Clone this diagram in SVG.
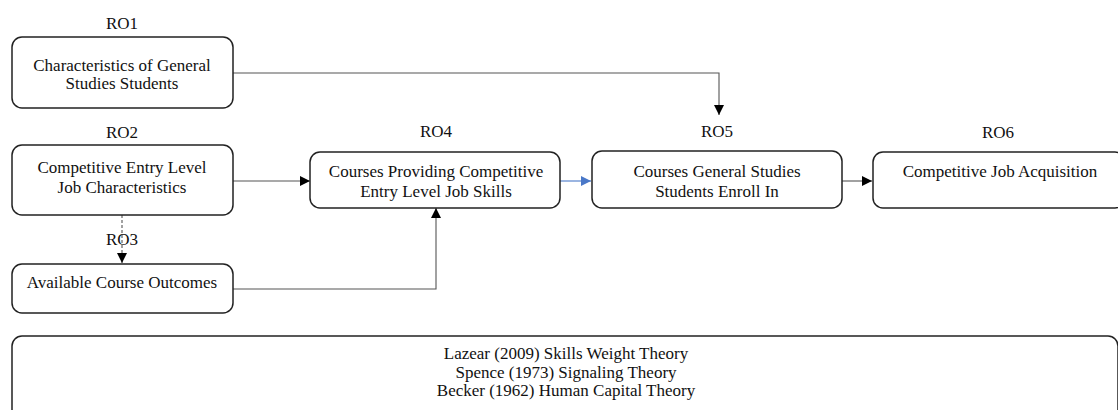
<svg xmlns="http://www.w3.org/2000/svg" width="1118" height="410" viewBox="0 0 1118 410">
<style>
.box{fill:#fff;stroke:#222;stroke-width:1.5}
.t{font-family:"Liberation Serif","Times New Roman",serif;font-size:17px;fill:#111;text-anchor:middle}
.c{fill:none;stroke:#555;stroke-width:1.1}
.blue{stroke:#4a78c8}
.dash{stroke-dasharray:3 2}
</style>
<defs>
<marker id="ah" viewBox="0 0 10 10" refX="10" refY="5" markerWidth="10" markerHeight="10" markerUnits="userSpaceOnUse" orient="auto">
<path d="M0,0 L10,5 L0,10 Z" fill="#000"/>
</marker>
<marker id="ahb" viewBox="0 0 10 10" refX="10" refY="5" markerWidth="10" markerHeight="10" markerUnits="userSpaceOnUse" orient="auto">
<path d="M0,0 L10,5 L0,10 Z" fill="#4a78c8"/>
</marker>
</defs>
<rect width="1118" height="410" fill="#fff"/>
<g id="connectors">
<path class="c" d="M233,73 H719 V115" marker-end="url(#ah)"/>
<path class="c" d="M233,181 H310" marker-end="url(#ah)"/>
<path class="c dash" d="M122,215 V263" marker-end="url(#ah)"/>
<path class="c" d="M233,289 H436 V208" marker-end="url(#ah)"/>
<path class="c blue" d="M560,181 H591" marker-end="url(#ahb)"/>
<path class="c" d="M842,181 H872" marker-end="url(#ah)"/>
</g>
<g id="ro1">
<text class="t" x="122" y="29">RO1</text>
<rect class="box" x="12" y="37" width="221" height="71" rx="10"/>
<text class="t" x="122" y="71">Characteristics of General</text>
<text class="t" x="122" y="89">Studies Students</text>
</g>
<g id="ro2">
<text class="t" x="122" y="138">RO2</text>
<rect class="box" x="12" y="145" width="221" height="70" rx="10"/>
<text class="t" x="122" y="173">Competitive Entry Level</text>
<text class="t" x="122" y="193">Job Characteristics</text>
</g>
<g id="ro3">
<text class="t" x="122" y="245">RO3</text>
<rect class="box" x="12" y="264" width="221" height="49" rx="10"/>
<text class="t" x="122" y="288">Available Course Outcomes</text>
</g>
<g id="ro4">
<text class="t" x="436" y="137">RO4</text>
<rect class="box" x="310" y="152" width="250" height="56" rx="10"/>
<text class="t" x="436" y="177">Courses Providing Competitive</text>
<text class="t" x="436" y="197">Entry Level Job Skills</text>
</g>
<g id="ro5">
<text class="t" x="717" y="137">RO5</text>
<rect class="box" x="592" y="151" width="250" height="57" rx="10"/>
<text class="t" x="717" y="177">Courses General Studies</text>
<text class="t" x="717" y="197">Students Enroll In</text>
</g>
<g id="ro6">
<text class="t" x="998" y="138">RO6</text>
<rect class="box" x="873" y="152" width="252" height="56" rx="10"/>
<text class="t" x="1000" y="177">Competitive Job Acquisition</text>
</g>
<g id="theories">
<rect class="box" x="12" y="336" width="1106" height="84" rx="10"/>
<text class="t" x="566" y="359">Lazear (2009) Skills Weight Theory</text>
<text class="t" x="566" y="378">Spence (1973) Signaling Theory</text>
<text class="t" x="566" y="396">Becker (1962) Human Capital Theory</text>
</g>
</svg>
